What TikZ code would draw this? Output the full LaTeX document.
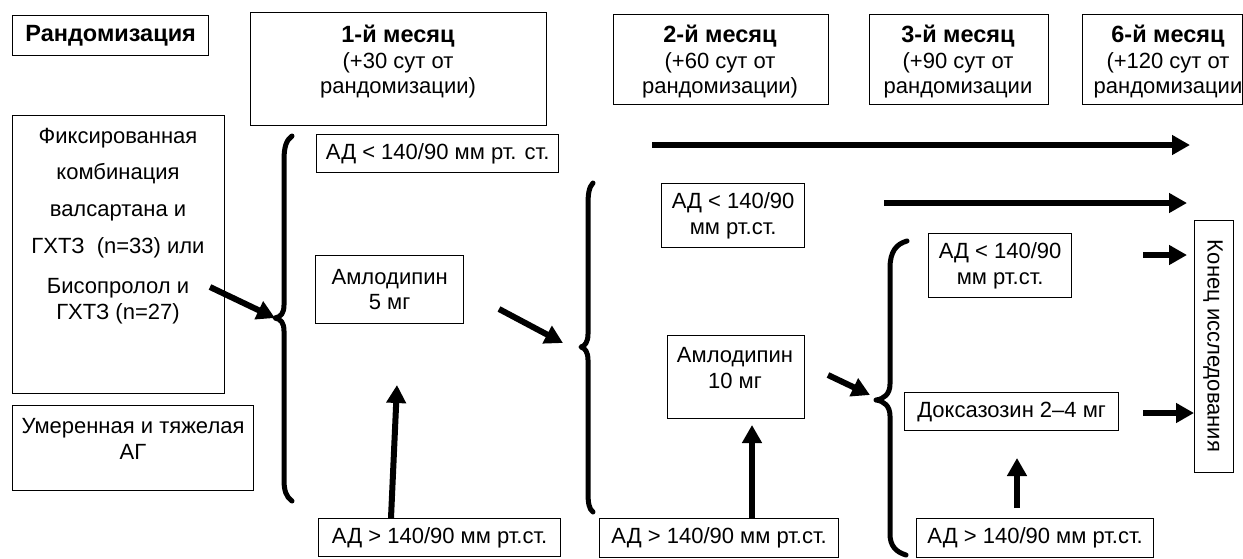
\documentclass[tikz,border=0pt]{standalone}
\usepackage{fontspec}
\setmainfont{Liberation Sans}
\usetikzlibrary{arrows.meta}
\newcommand{\hb}[1]{{\fontsize{23.5}{25.5}\selectfont\bfseries #1}}
\begin{document}
\begin{tikzpicture}[x=1pt,y=-1pt,
  font=\fontsize{22}{25.5}\selectfont,
  box/.style={draw, line width=1.3pt, inner sep=0pt, align=center, anchor=north west},
  txt/.style={align=center, inner sep=0pt},
  arr/.style={line width=6pt, -{Triangle[length=18pt,width=19pt]}},
  brace/.style={line width=5pt, line cap=round, line join=round}]
\useasboundingbox (0,0) rectangle (1243,558);

% header boxes
\node[box, minimum width=196pt, minimum height=40pt] (rand) at (12,15) {\hb{Рандомизация}};
\node[box, minimum width=296pt, minimum height=113pt] (m1) at (250,12) {};
\node[txt] (m1t) at (398,62) {\hb{1-й месяц}\\(+30 сут от\\рандомизации)};
\node[box, minimum width=215pt, minimum height=90pt] (m2) at (613,14) {};
\node[txt] (m2t) at (720,62) {\hb{2-й месяц}\\(+60 сут от\\рандомизации)};
\node[box, minimum width=179pt, minimum height=90pt] (m3) at (869,14) {};
\node[txt] (m3t) at (958,62) {\hb{3-й месяц}\\(+90 сут от\\рандомизации};
\node[box, minimum width=160pt, minimum height=90pt] (m6) at (1082,14) {};
\node[txt] (m6t) at (1168,62) {\hb{6-й месяц}\\(+120 сут от\\рандомизации};

% left boxes
\node[box, minimum width=212pt, minimum height=278pt] (fix) at (12,115) {};
\node[txt] (fixt) at (118,226) {Фиксированная\\[10.5pt]комбинация\\[11.5pt]валсартана и\\[11.5pt]ГХТЗ\ \ (n=33) или\\[14.5pt]Бисопролол и\\ГХТЗ (n=27)};
\node[box, minimum width=241pt, minimum height=85pt] (umer) at (12,405) {};
\node[txt] (umert) at (133,439) {Умеренная и тяжелая\\АГ};

% month 1 column
\node[box, minimum width=242pt, minimum height=38pt] (lt1) at (316,134) {АД < 140/90 мм рт. ст.};
\node[box, minimum width=148pt, minimum height=68pt] (aml5) at (315,255) {Амлодипин\\5 мг};
\node[box, minimum width=242pt, minimum height=38pt] (gt1) at (318,518) {АД > 140/90 мм рт.ст.};

% month 2 column
\node[box, minimum width=143pt, minimum height=64pt] (lt2) at (661,183) {АД < 140/90\\мм рт.ст.};
\node[box, minimum width=137pt, minimum height=83pt] (aml10) at (667,335) {};
\node[txt] (aml10t) at (735,368) {Амлодипин\\10 мг};
\node[box, minimum width=239pt, minimum height=39pt] (gt2) at (599,518) {АД > 140/90 мм рт.ст.};

% month 3 column
\node[box, minimum width=143pt, minimum height=64pt] (lt3) at (928,233) {АД < 140/90\\мм рт.ст.};
\node[box, minimum width=214pt, minimum height=38pt] (dox) at (904,392) {Доксазозин 2–4 мг};
\node[box, minimum width=237pt, minimum height=39pt] (gt3) at (916,518) {АД > 140/90 мм рт.ст.};

% end of study
\node[box, minimum width=39pt, minimum height=252pt] (end) at (1194,220) {};
\node[txt, rotate=-90] (endt) at (1213,346) {Конец исследования};

% braces
\coordinate (b1tip) at (275,318);
\coordinate (b2tip) at (581,347);
\coordinate (b3tip) at (876,400);
\draw[brace] (292,136) .. controls (286,140) and (284,148) .. (284,160) -- (284,305)
  .. controls (284,313) and (281,317) .. (b1tip)
  .. controls (281,319) and (284,323) .. (284,331) -- (284,480)
  .. controls (284,490) and (286,497) .. (292,501);
\draw[brace] (593,183) .. controls (589,187) and (588,194) .. (588,205) -- (588,334)
  .. controls (588,342) and (585,346) .. (b2tip)
  .. controls (585,348) and (588,352) .. (588,360) -- (588,492)
  .. controls (588,503) and (589,509) .. (593,512);
\draw[brace] (907,241) .. controls (896,244) and (890,252) .. (890,268) -- (890,384)
  .. controls (890,394) and (884,399) .. (b3tip)
  .. controls (884,401) and (890,406) .. (890,416) -- (890,534)
  .. controls (890,546) and (896,552) .. (906,555);

% arrows
\coordinate (a1s) at (210,287);
\draw[arr] (a1s) -- (b1tip);
\coordinate (u1e) at (397,385);
\draw[arr] (gt1.north -| 391,0) -- (u1e);
\coordinate (a3s) at (499,309);
\coordinate (a3e) at (563,343);
\draw[arr] (a3s) -- (a3e);
\coordinate (l1s) at (652,145);
\coordinate (l1e) at (1190,145);
\draw[arr] (l1s) -- (l1e);
\coordinate (l2s) at (884,203);
\coordinate (l2e) at (1187,203);
\draw[arr] (l2s) -- (l2e);
\draw[arr] (gt2.north -| 752,0) -- (752,425);
\coordinate (a7s) at (828,375);
\coordinate (a7e) at (870,395);
\draw[arr] (a7s) -- (a7e);
\coordinate (a8s) at (1143,255);
\draw[arr] (a8s) -- (a8s -| 1187,0);
\coordinate (a9s) at (1143,413);
\draw[arr] (a9s) -- (a9s -| end.west);
\coordinate (u3s) at (1017,508);
\draw[arr] (u3s) -- (1017,458);
\end{tikzpicture}
\end{document}
